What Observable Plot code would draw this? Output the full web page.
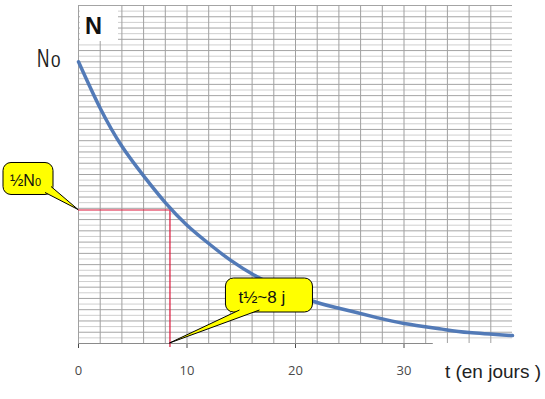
<!DOCTYPE html>
<html><head><meta charset="utf-8">
<script src="https://cdn.jsdelivr.net/npm/d3@7"></script>
<script src="https://cdn.jsdelivr.net/npm/@observablehq/plot@0.6"></script>
<style>
body{margin:0;background:#fff;}
#chart{position:absolute;left:0;top:0;}
</style></head><body><div id="chart"></div>
<script>
// Data (N in % of N0, t in days)
const days    = [0, 2, 4, 6, 8, 10, 12, 14, 17, 21, 24, 27.5, 30, 33.5, 36, 40];
const nValues = [100, 83.5, 70, 59.5, 50, 42, 35.5, 29.6, 22.6, 15.8, 12.5, 9.2, 7.1, 5.1, 3.9, 2.8];
const xTicks = [0, 10, 20, 30];
const halfLifeDay = 8.43;
const halfLevel = 47.4;
const axisEndDay = 32.7;
const vGrid = d3.range(0, 40, 2);
const hGridMajor = d3.range(4, 121, 4);
const hGridMinor = d3.range(2, 121, 4);
const yLabel = "N";
const n0Label = ["N", "0"];
const halfLabel = ["½N", "0"];
const tHalfLabel = "t½~8 j";
const xLabel = "t (en jours )";

const data = days.map((t, i) => ({t, n: nValues[i]}));

const FONT = "'Liberation Sans', Arial, sans-serif";
const YELLOW = "#ffff00";
const RED = "#dc1438";

function backdrop(index, scales) {
  const ax = scales.x(0), ay = scales.y(120);
  const g = d3.create("svg:g");
  g.append("rect").attr("x", ax + 2).attr("y", ay + 1).attr("width", 38).attr("height", 35).attr("fill", "#fff");
  return g.node();
}

function callout(g, ax, ay, b, base1, base2) {
  g.append("rect").attr("x", ax + b[0]).attr("y", ay + b[1])
    .attr("width", b[2] - b[0]).attr("height", b[3] - b[1]).attr("rx", 8)
    .attr("fill", YELLOW).attr("stroke", "#000").attr("stroke-width", 1);
  g.append("path").attr("d", `M${ax+base1[0]},${ay+base1[1]}L${ax},${ay}L${ax+base2[0]},${ay+base2[1]}Z`)
    .attr("fill", YELLOW);
  g.append("path").attr("d", `M${ax+base1[0]},${ay+base1[1]}L${ax},${ay}L${ax+base2[0]},${ay+base2[1]}`)
    .attr("fill", "none").attr("stroke", "#000").attr("stroke-width", 1);
}

function annotations(index, scales) {
  const sx = scales.x, sy = scales.y;
  const g = d3.create("svg:g").attr("font-family", FONT).attr("text-anchor", "start");

  // "N" title in the top-left corner
  g.append("text").attr("x", sx(0) + 7).attr("y", sy(120) + 29)
    .attr("font-size", 24).attr("font-weight", "bold").attr("fill", "#111")
    .attr("textLength", 17).attr("lengthAdjust", "spacingAndGlyphs").text(yLabel);

  // N0 label at the start of the curve
  const n0x = sx(0), n0y = sy(100);
  g.append("text").attr("transform", `translate(${n0x - 41},${n0y + 5.7}) scale(0.66,1)`)
    .attr("font-size", 26).attr("fill", "#222").text(n0Label[0]);
  g.append("text").attr("x", n0x - 27).attr("y", n0y + 5.7)
    .attr("font-size", 17).attr("fill", "#222").text(n0Label[1]);

  // ½N0 callout
  const hx = sx(0), hy = sy(halfLevel);
  callout(g, hx, hy, [-75, -47, -25, -15], [-33, -17], [-27, -23]);
  const ht = g.append("text").attr("x", hx - 68).attr("y", hy - 23)
    .attr("font-size", 16).attr("fill", "#111");
  ht.append("tspan").text(halfLabel[0]);
  ht.append("tspan").attr("font-size", 11).text(halfLabel[1]);

  // t½ callout
  const tx = sx(halfLifeDay), ty = sy(0);
  callout(g, tx, ty, [56, -65, 143, -31], [70, -33], [90, -33]);
  g.append("text").attr("x", tx + 69).attr("y", ty - 40)
    .attr("font-size", 17).attr("fill", "#111").text(tHalfLabel);

  // x-axis title
  g.append("text").attr("x", sx(40) + 29).attr("y", sy(0) + 35)
    .attr("text-anchor", "end").attr("font-size", 19).attr("fill", "#222").text(xLabel);
  return g.node();
}

const chart = Plot.plot({
  width: 545, height: 399,
  marginLeft: 78, marginRight: 33, marginTop: 5, marginBottom: 56,
  style: {background: "#fff", color: "#4a4a4a", fontFamily: "'Open Sans', sans-serif", fontSize: "13px", overflow: "visible"},
  x: {domain: [0, 40], ticks: xTicks, tickSize: 5, tickPadding: 17, label: null},
  y: {domain: [0, 120], axis: null},
  marks: [
    Plot.ruleY(hGridMinor, {stroke: "#cfcfcf", strokeWidth: 1}),
    Plot.ruleY(hGridMajor, {stroke: "#a4a4a4", strokeWidth: 1}),
    Plot.ruleX(vGrid, {stroke: "#a0a0a0", strokeWidth: 1}),
    backdrop,
    Plot.ruleY([0], {x1: 0, x2: axisEndDay, stroke: "#8a8a8a", strokeWidth: 1}),
    Plot.ruleY([halfLevel], {x1: 0, x2: halfLifeDay, stroke: RED, strokeWidth: 1.2}),
    Plot.ruleX([halfLifeDay], {y1: -1.4, y2: halfLevel, stroke: RED, strokeWidth: 1.2}),
    Plot.line(data, {x: "t", y: "n", curve: "natural", stroke: "#4a74b4", strokeWidth: 3.5, strokeOpacity: 0.95}),
    annotations
  ]
});
document.getElementById("chart").appendChild(chart);
</script>
</body></html>
